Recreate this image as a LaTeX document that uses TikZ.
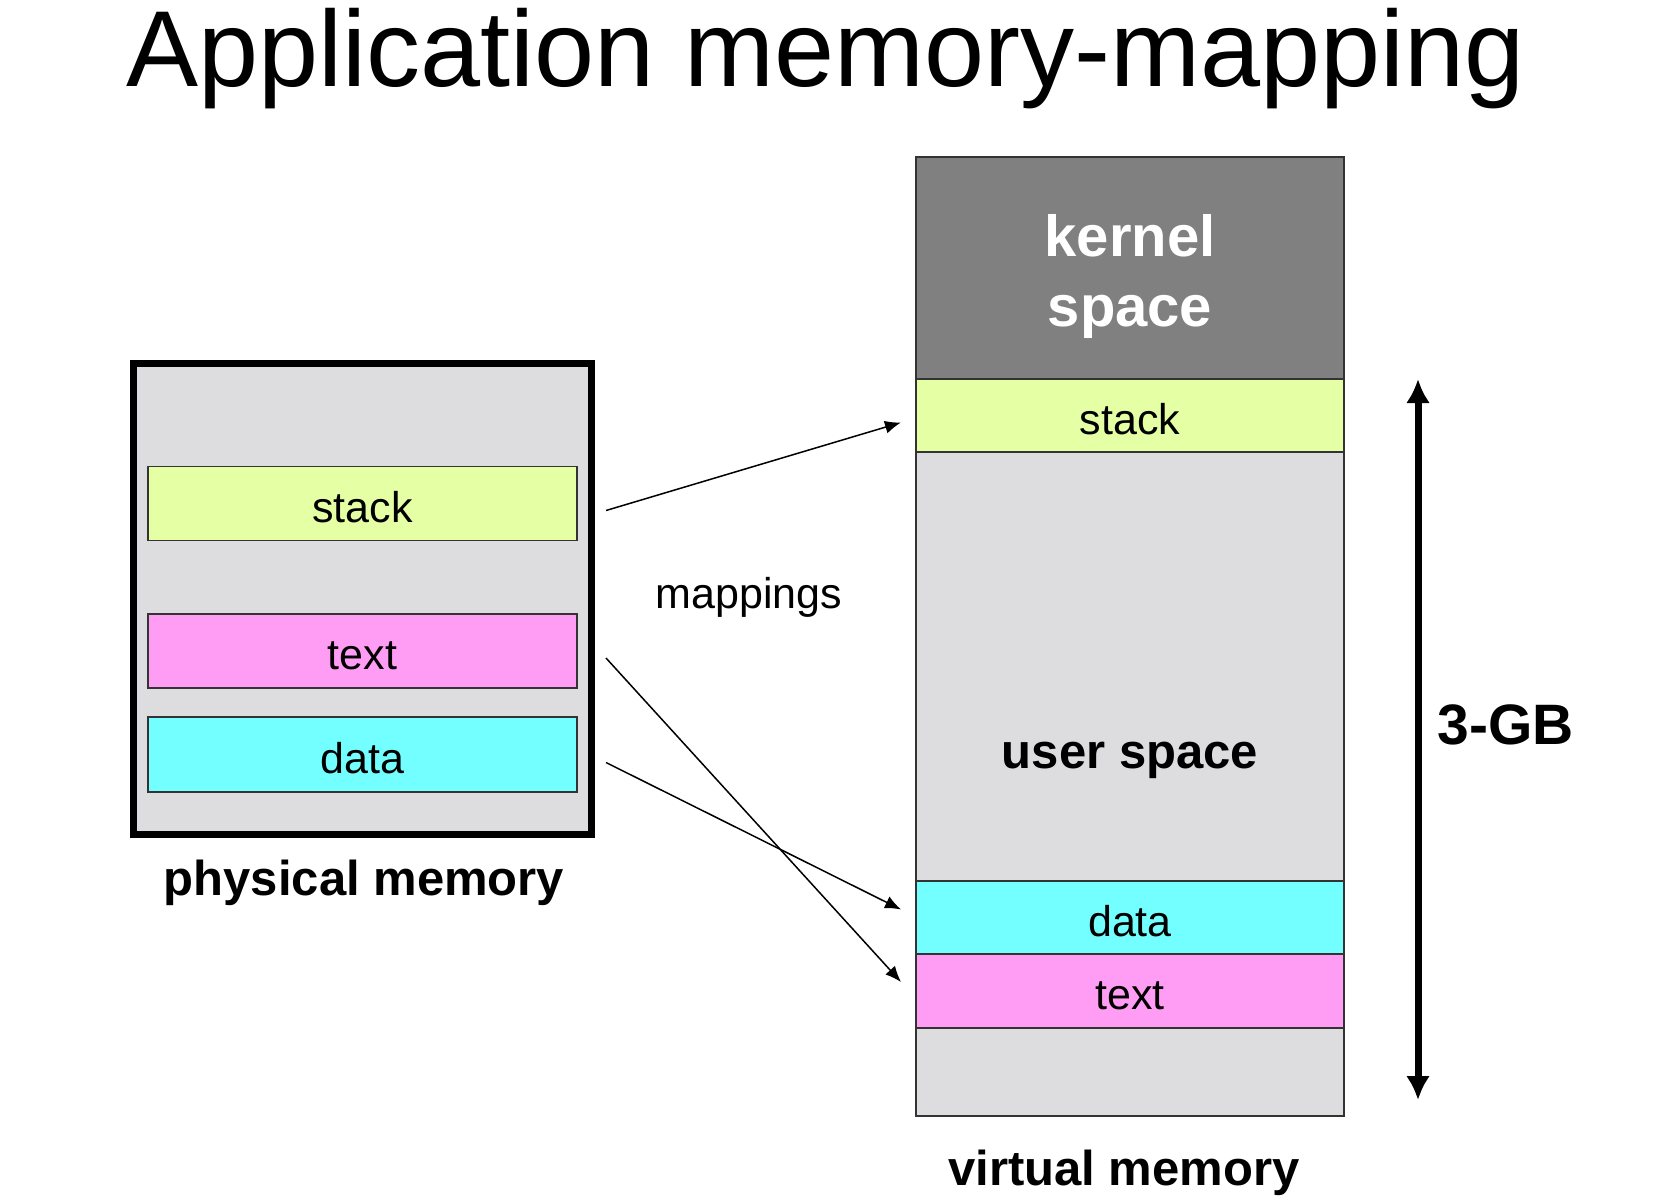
\documentclass[tikz,border=0pt]{standalone}
\usepackage{fontspec}
\setmainfont{Liberation Sans}
\usetikzlibrary{arrows.meta,calc,positioning}
\definecolor{StackClr}{RGB}{229,255,165}
\definecolor{TextClr}{RGB}{255,157,245}
\definecolor{DataClr}{RGB}{115,255,255}
\definecolor{BackClr}{RGB}{221,221,223}
\definecolor{KernelClr}{RGB}{128,128,128}

\begin{document}
\begin{tikzpicture}[x=1pt,y=-1pt,
  memseg/.style={draw=black!80,line width=1.5pt,minimum width=428pt,minimum height=#1,
    inner sep=0pt,outer sep=0pt,text height=37pt,text depth=0pt,font=\fontsize{43}{50}\selectfont},
  boldlbl/.style={anchor=base,inner sep=0pt,font=\bfseries\fontsize{#1}{#1}\selectfont},
  plainlbl/.style={anchor=base,inner sep=0pt,font=\fontsize{#1}{#1}\selectfont},
  maparrow/.style={line width=1.5pt,-{Latex[length=16pt,width=13pt]}}]
\fill[white] (0,0) rectangle (1678,1199);
\useasboundingbox (0,0) rectangle (1678,1199);

\node[plainlbl=108] (title) at (826,86) {Application memory-mapping};

% physical memory
\node[draw=black,line width=7pt,fill=BackClr,minimum width=458pt,minimum height=470.5pt,inner sep=0pt] (phys) at (362.5,598.75) {};
\node[memseg=74pt,fill=StackClr,minimum width=429pt] (pstack) at (362.5,503.5) {stack};
\node[memseg=74pt,fill=TextClr,minimum width=429pt] (ptext) at (362.5,651) {text};
\node[memseg=75pt,fill=DataClr,minimum width=429pt] (pdata) at (362.5,754.5) {data};
\node[boldlbl=49] (physlbl) at (364,895) {physical memory};

% virtual memory
\node[memseg=222pt,fill=KernelClr] (kernel) at (1130,268) {};
\node[memseg=73pt,fill=StackClr,below=0pt of kernel] (vstack) {stack};
\node[memseg=429pt,fill=BackClr,below=0pt of vstack] (user) {};
\node[memseg=73pt,fill=DataClr,below=0pt of user] (vdata) {data};
\node[memseg=74pt,fill=TextClr,below=0pt of vdata] (vtext) {text};
\node[memseg=88pt,fill=BackClr,below=0pt of vtext] (vfree) {};
\node[align=center,text=white,inner sep=0pt,font=\bfseries\fontsize{58}{70}\selectfont] (kernellbl) at (1130,277) {kernel\\space};
\node[boldlbl=49] (userlbl) at (1130,768) {user space};
\node[boldlbl=49] (virtlbl) at (1124,1185) {virtual memory};

% mappings
\node[plainlbl=43] (maplbl) at (749,608) {mappings};
\coordinate (s1) at ($(pstack.east)+(29,7)$);
\coordinate (e1) at ($(vstack.west)+(-15,7)$);
\coordinate (s2) at ($(ptext.east)+(29,7)$);
\coordinate (e2) at ($(vtext.west)+(-15,-9)$);
\coordinate (s3) at ($(pdata.east)+(29,8)$);
\coordinate (e3) at ($(vdata.west)+(-15,-8)$);
\draw[maparrow] (s1) -- (e1);
\draw[maparrow] (s2) -- (e2);
\draw[maparrow] (s3) -- (e3);

% 3-GB range
\coordinate (gbtop) at (1418,379);
\coordinate (gbbot) at (1418,1100);
\draw[line width=7pt,{Latex[length=24pt,width=24pt]}-{Latex[length=24pt,width=24pt]}] (gbtop) -- (gbbot);
\node[boldlbl=57] (gblbl) at (1506,744) {3-GB};

\end{tikzpicture}
\end{document}
